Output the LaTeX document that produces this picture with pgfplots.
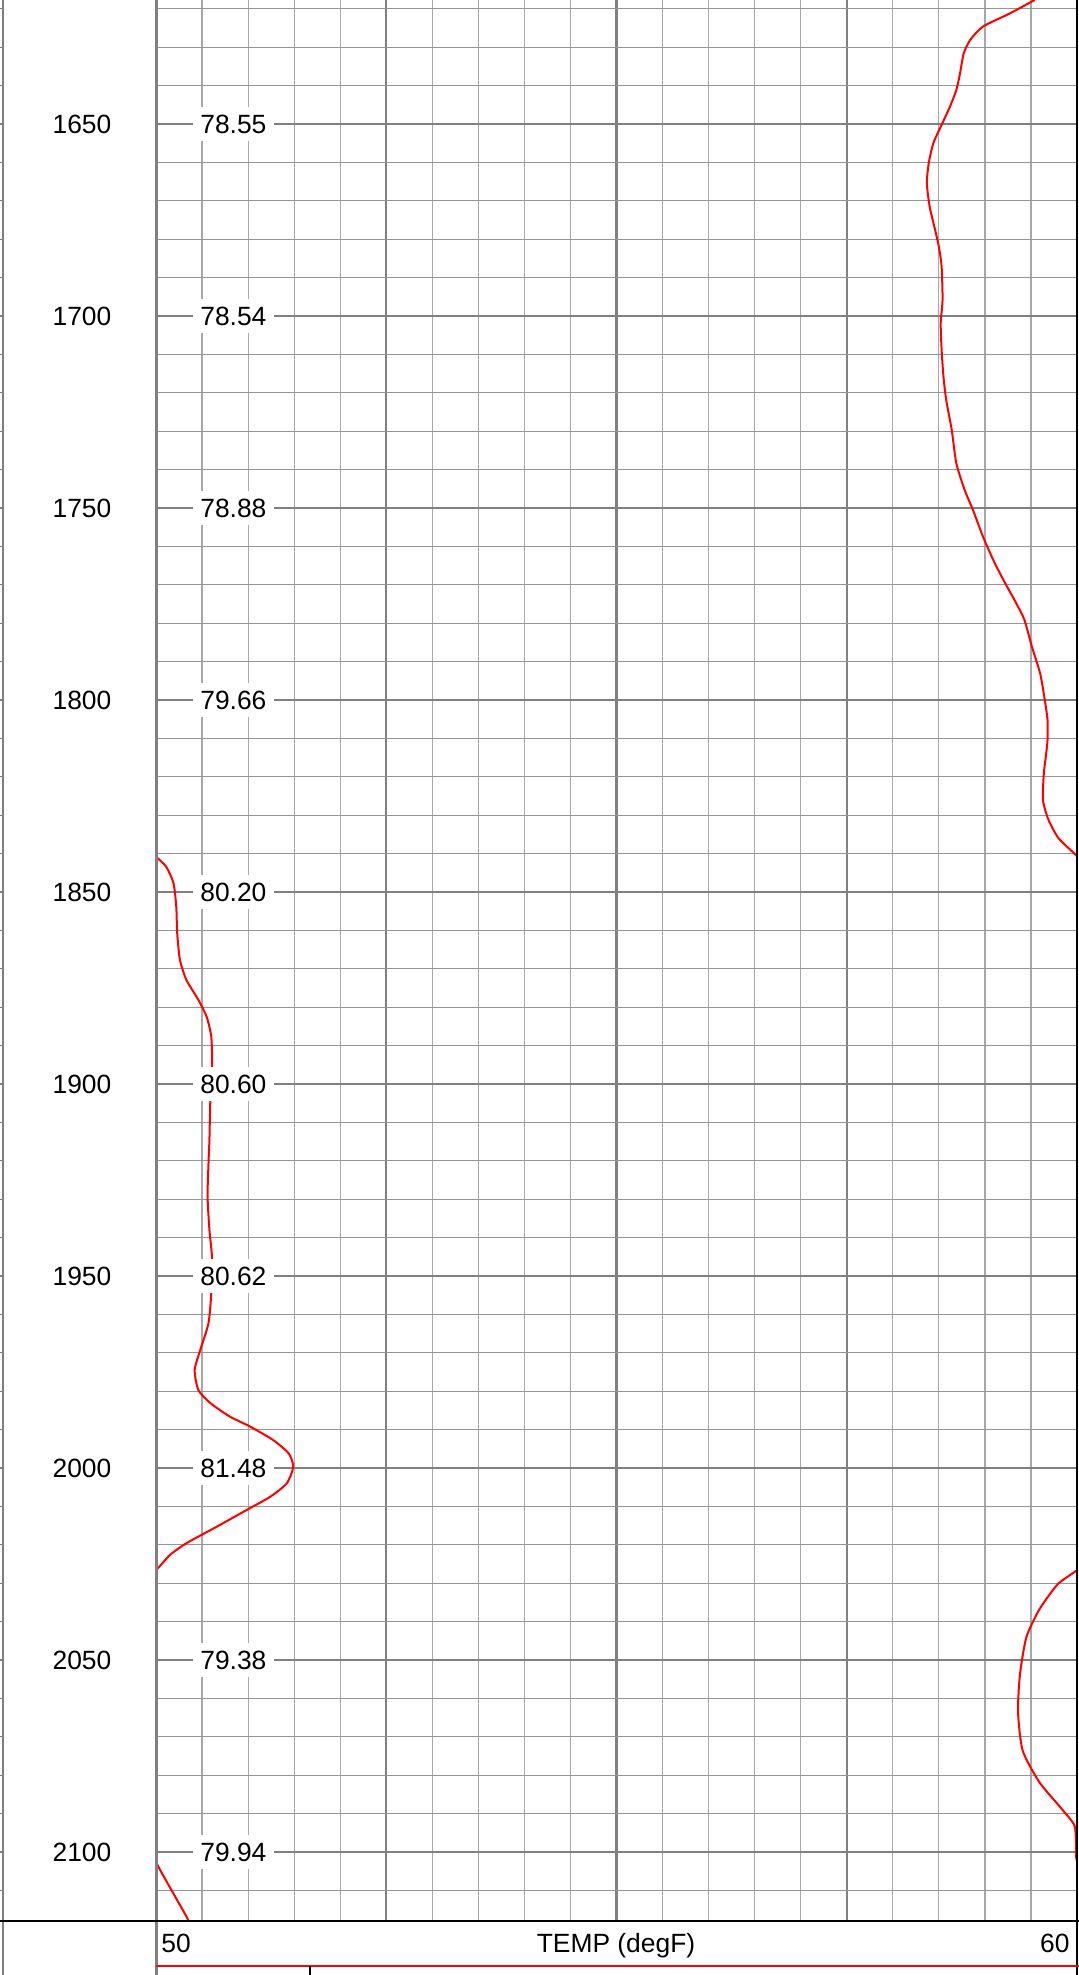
\documentclass[border=0pt]{standalone}
\usepackage{pgfplots}
\pgfplotsset{compat=1.18}
\usepackage{pgfplotstable}
\usepackage{fontspec}
\setmainfont{Liberation Sans}
\definecolor{gridmaj}{HTML}{808080}
\definecolor{gridmin}{HTML}{A8A8A8}
\definecolor{gridh}{HTML}{959595}
\definecolor{curvered}{HTML}{FF0000}

\pgfplotstableread{
depth T
1617.7 79.54
1621.2 79.27
1624.6 78.98
1628.1 78.84
1631.6 78.77
1636.8 78.73
1641.1 78.69
1645.5 78.62
1650.2 78.53
1655.0 78.44
1660.2 78.39
1665.4 78.37
1671.5 78.40
1677.6 78.46
1682.0 78.50
1687.1 78.53
1695.8 78.54
1701.9 78.52
1708.8 78.53
1715.8 78.55
1721.9 78.58
1729.7 78.64
1738.4 78.69
1745.3 78.78
1750.5 78.87
1757.5 78.98
1763.5 79.09
1768.7 79.20
1774.8 79.34
1779.2 79.43
1786.1 79.51
1793.1 79.60
1800.0 79.65
1805.2 79.68
1810.4 79.68
1815.0 79.66
1819.1 79.64
1826.0 79.63
1831.2 79.69
1836.0 79.80
1840.4 79.99
1840.8 80.00
1843.4 80.11
1847.7 80.19
1853.8 80.22
1860.7 80.23
1867.7 80.26
1872.9 80.33
1878.1 80.46
1882.5 80.55
1887.7 80.60
1895.5 80.61
1904.2 80.59
1914.6 80.58
1920.6 80.57
1929.3 80.56
1938.0 80.58
1945.8 80.61
1954.5 80.60
1962.3 80.57
1969.3 80.48
1974.5 80.42
1979.7 80.46
1983.1 80.59
1986.6 80.80
1989.2 81.02
1992.7 81.27
1996.2 81.44
1999.7 81.49
2004.0 81.42
2007.5 81.24
2011.0 80.98
2015.3 80.66
2019.6 80.33
2022.7 80.15
2026.6 80.00
2030.3 79.79
2036.9 79.59
2044.1 79.45
2053.9 79.38
2063.7 79.36
2073.6 79.41
2081.8 79.59
2088.4 79.82
2093.0 79.97
2098.0 79.99
2102.5 80.00
2109.6 80.16
2116.8 80.33
2118.0 80.35
}\tempdata

\begin{document}
\begin{tikzpicture}
\useasboundingbox (0,0) rectangle (539.5pt,-987.5pt);

% depth track
\begin{axis}[
  at={(1.5pt,0pt)}, anchor=north west,
  width=76.5pt, height=960.5pt, scale only axis,
  xmin=0, xmax=1, ymin=1617.7, ymax=2118, y dir=reverse,
  axis line style={draw=none},
  xtick=\empty,
  ytick={1620,1630,...,2110}, yticklabels={},
  ytick pos=left, tick align=outside, major tick length=1.5pt,
  tick style={gridmaj, line width=0.6pt},
  clip=false,
]
\addplot[only marks, mark=none, nodes near coords, point meta=explicit symbolic,
  every node near coord/.append style={anchor=center, font=\fontsize{13.2pt}{15pt}\selectfont, text=black}]
  coordinates {
  (0.516,1650)[1650] (0.516,1700)[1700] (0.516,1750)[1750] (0.516,1800)[1800]
  (0.516,1850)[1850] (0.516,1900)[1900] (0.516,1950)[1950] (0.516,2000)[2000]
  (0.516,2050)[2050] (0.516,2100)[2100]
  };
\end{axis}

% temperature track
\begin{axis}[
  at={(78pt,0pt)}, anchor=north west,
  width=460.5pt, height=960.5pt, scale only axis,
  xmin=50, xmax=60, ymin=1617.7, ymax=2118, y dir=reverse,
  axis line style={draw=none},
  xtick={52.5,55,57.5}, minor xtick={50.5,51,...,59.5},
  ytick={1650,1700,...,2100}, minor ytick={1620,1630,...,2110},
  xticklabels={}, yticklabels={},
  major tick length=0pt, minor tick length=0pt,
  grid=both,
  major x grid style={gridmaj, line width=1.1pt},
  minor x grid style={gridmin, line width=0.6pt},
  major y grid style={gridmaj, line width=1.1pt},
  minor y grid style={gridh, line width=0.6pt},
]
\addplot[curvered, line width=1pt, smooth, tension=0.4] table[x expr=\thisrow{T}-20, y=depth] {\tempdata};
\addplot[curvered, line width=1pt, smooth, tension=0.4] table[x expr=\thisrow{T}-30, y=depth] {\tempdata};
\addplot[only marks, mark=none, nodes near coords, point meta=explicit symbolic,
  every node near coord/.append style={anchor=center, fill=white, text=black,
  inner xsep=3.6pt, inner ysep=3.8pt, font=\fontsize{13.2pt}{15pt}\selectfont}]
  coordinates {
  (50.84,1650)[78.55] (50.84,1700)[78.54] (50.84,1750)[78.88] (50.84,1800)[79.66]
  (50.84,1850)[80.20] (50.84,1900)[80.60] (50.84,1950)[80.62] (50.84,2000)[81.48]
  (50.84,2050)[79.38] (50.84,2100)[79.94]
  };
\end{axis}

% borders and header
\draw[gridmaj, line width=1.2pt] (1.5pt,0) -- (1.5pt,-987.5pt);
\draw[gridmaj, line width=1.5pt] (78pt,0) -- (78pt,-987.5pt);
\draw[black, line width=1pt] (538.6pt,0) -- (538.6pt,-987.5pt);
\draw[black, line width=0.8pt] (0,-960.5pt) -- (539.5pt,-960.5pt);
\draw[curvered, line width=1pt] (78pt,-983pt) -- (539.5pt,-983pt);
\draw[black, line width=0.6pt] (155pt,-983pt) -- (155pt,-987.5pt);
\node[anchor=base west, inner sep=0pt, font=\fontsize{13.2pt}{15pt}\selectfont] at (80.5pt,-976pt) {50};
\node[anchor=base, inner sep=0pt, font=\fontsize{13.2pt}{15pt}\selectfont] at (308pt,-976pt) {TEMP (degF)};
\node[anchor=base east, inner sep=0pt, font=\fontsize{13.2pt}{15pt}\selectfont] at (535pt,-976pt) {60};
\end{tikzpicture}
\end{document}
